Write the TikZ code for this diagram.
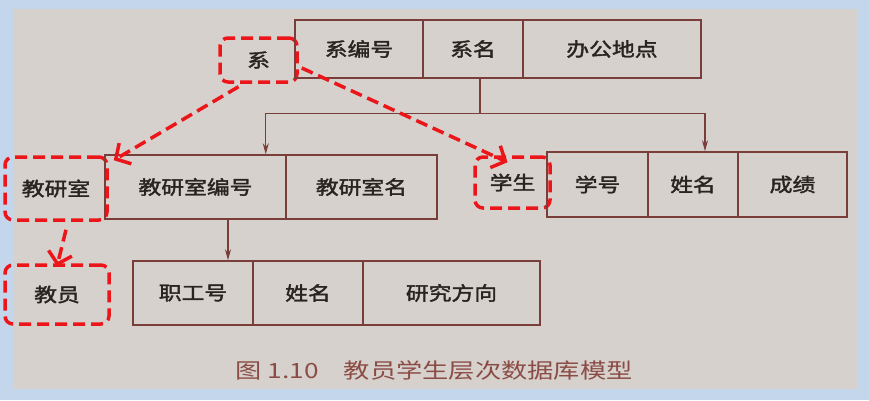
\documentclass[tikz,border=0pt]{standalone}
\usepackage{fontspec}
\usetikzlibrary{arrows.meta,positioning}
\newfontfamily\cjk[FakeStretch=1.2,FakeBold=2]{Noto Sans CJK SC}
\newfontfamily\capfont[FakeStretch=1.25]{Noto Sans CJK SC}
\definecolor{frameblue}{RGB}{196,214,236}
\definecolor{paper}{RGB}{214,209,204}
\definecolor{recbrown}{RGB}{122,62,58}
\definecolor{keyred}{RGB}{236,22,26}
\definecolor{capred}{RGB}{140,76,70}
\definecolor{inkblack}{RGB}{40,36,34}
\tikzset{
  cell/.style={draw=recbrown,line width=1.5pt,inner sep=0pt,text=inkblack,font=\cjk\fontsize{19}{19}\selectfont},
  keybox/.style={draw=keyred,line width=3.5pt,dash pattern=on 12pt off 6pt,rounded corners=8pt,inner sep=0pt,text=inkblack,font=\cjk\fontsize{19}{19}\selectfont},
  conn/.style={draw=recbrown,line width=1.2pt},
  keyarrow/.style={draw=keyred,line width=3.5pt,dash pattern=on 12pt off 6pt,-{Straight Barb[length=11pt,width=24pt,line width=3.5pt]}}
}

\begin{document}
\begin{tikzpicture}[x=1pt,y=-1pt]
\useasboundingbox (0,0) rectangle (869,400);
% photo on blue frame
\fill[frameblue] (0,0) rectangle (869,400);
\fill[paper] (13,9) rectangle (857,389);

% root record
\node[keybox,minimum width=77pt,minimum height=44pt] (xi) at (258.5,60) {系};
\node[cell,minimum width=128pt,minimum height=58pt] (xibh) at (359,49) {系编号};
\node[cell,minimum width=100pt,minimum height=58pt] (ximing) at (473,49) {系名};
\node[cell,minimum width=178pt,minimum height=58pt] (bgdd) at (612,49) {办公地点};

% staff room record
\node[keybox,minimum width=102pt,minimum height=63pt] (jys) at (56,188.5) {教研室};
\node[cell,minimum width=181pt,minimum height=64pt] (jysbh) at (195.5,187) {教研室编号};
\node[cell,minimum width=151pt,minimum height=64pt] (jysm) at (361.5,187) {教研室名};

% student record
\node[keybox,minimum width=75pt,minimum height=51pt] (xs) at (512.5,182.5) {学生};
\node[cell,minimum width=101pt,minimum height=65pt] (xh) at (597.5,184.5) {学号};
\node[cell,minimum width=90pt,minimum height=65pt] (xmb) at (693,184.5) {姓名};
\node[cell,minimum width=109pt,minimum height=65pt] (cj) at (792.5,184.5) {成绩};

% teacher record
\node[keybox,minimum width=104pt,minimum height=59pt] (jy) at (57,294.5) {教员};
\node[cell,minimum width=120pt,minimum height=64pt] (zgh) at (193,293) {职工号};
\node[cell,minimum width=110pt,minimum height=64pt] (xma) at (308,293) {姓名};
\node[cell,minimum width=177pt,minimum height=64pt] (yjfx) at (451.5,293) {研究方向};

% hierarchy links
\draw[conn] ([xshift=7pt]ximing.south) -- ++(0,35) coordinate (fork);
\draw[conn,-{Stealth[length=11pt,width=6pt]}] (fork) -| ([xshift=-21pt]jysbh.north east);
\draw[conn,-{Stealth[length=11pt,width=6pt]}] (fork) -| ([xshift=12pt]xmb.north);
\draw[conn,-{Stealth[length=11pt,width=6pt]}] ([xshift=32.5pt]jysbh.south) -- ([xshift=32.5pt]jysbh.south |- zgh.north);

% red marks
\draw[keyarrow] ([xshift=-20pt,yshift=-3pt]xi.south) -- ([xshift=5pt,yshift=-5pt]jys.north east);
\draw[keyarrow] ([xshift=3pt,yshift=-8pt]xi.east) -- ([xshift=-5pt,yshift=-7pt]xs.north);
\draw[keyarrow] ([xshift=10pt,yshift=-8pt]jys.south) -- ([yshift=-3pt]jy.north);

% caption
\node[font=\capfont\fontsize{21}{21}\selectfont,text=capred] (cap) at (434,371) {图 1.10\hspace{1.2em}教员学生层次数据库模型};
\end{tikzpicture}
\end{document}
